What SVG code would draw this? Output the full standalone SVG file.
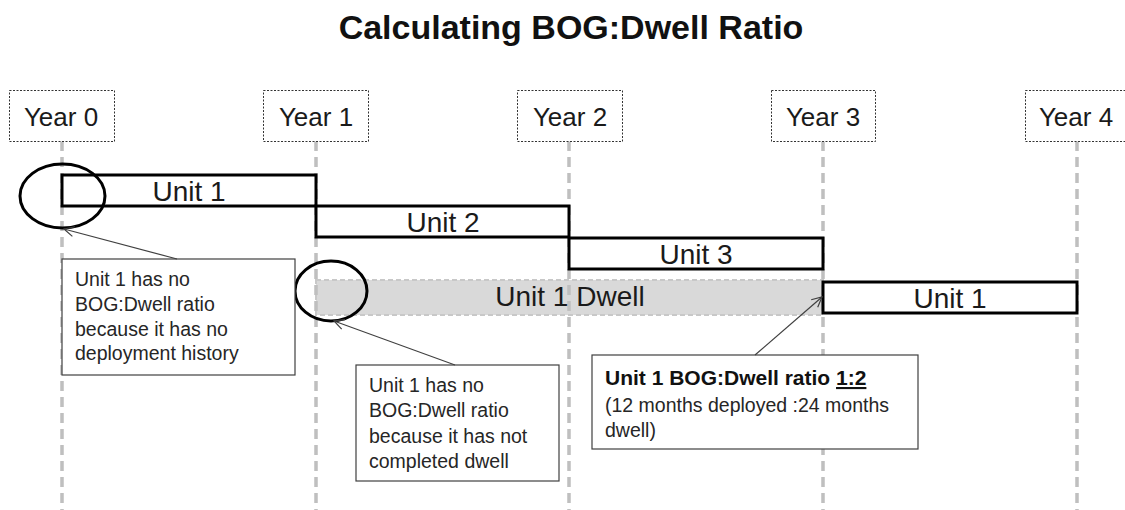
<svg xmlns="http://www.w3.org/2000/svg" width="1125" height="510" viewBox="0 0 1125 510">
  <style>
    .title { font-family: "Liberation Sans", Arial, sans-serif; font-weight: bold; font-size: 34px; fill: #111; }
    .year-box { fill: #fff; stroke: #333; stroke-width: 1; stroke-dasharray: 2 1.5; }
    .year-text { font-family: "Liberation Sans", Arial, sans-serif; font-size: 26px; fill: #1a1a1a; text-anchor: middle; }
    .vline { stroke: #bfbfbf; stroke-width: 3.5; stroke-dasharray: 10 6; fill: none; }
    .bar { fill: #fff; stroke: #000; stroke-width: 3; }
    .dwell { fill: #d9d9d9; stroke: #c8c8c8; stroke-width: 2; stroke-dasharray: 5 3; }
    .bar-text { font-family: "Liberation Sans", Arial, sans-serif; font-size: 28px; fill: #1a1a1a; text-anchor: middle; }
    .ring { fill: none; stroke: #000; stroke-width: 3; }
    .callout { fill: #fff; stroke: #404040; stroke-width: 1.2; }
    .callout-text { font-family: "Liberation Sans", Arial, sans-serif; font-size: 19.5px; fill: #262626; }
    .callout-bold { font-weight: bold; font-size: 21px; fill: #111; }
    .conn { stroke: #404040; stroke-width: 1.2; fill: none; marker-end: url(#open-arrow); }
  </style>
  <defs>
    <marker id="open-arrow" viewBox="0 0 12 12" refX="11" refY="6" markerWidth="12" markerHeight="12" markerUnits="userSpaceOnUse" orient="auto">
      <path d="M1,1 L11,6 L1,11" fill="none" stroke="#404040" stroke-width="1.2"/>
    </marker>
  </defs>

  <rect width="1125" height="510" fill="#fff"/>

  <g id="title">
    <text class="title" x="571" y="39" text-anchor="middle">Calculating BOG:Dwell Ratio</text>
  </g>

  <g id="dwell-bar">
    <rect class="dwell" x="316" y="280" width="507" height="35"/>
  </g>

  <g id="timeline-lines">
    <line class="vline" x1="62" y1="141" x2="62" y2="510"/>
    <line class="vline" x1="316" y1="141" x2="316" y2="510"/>
    <line class="vline" x1="569" y1="141" x2="569" y2="510"/>
    <line class="vline" x1="823" y1="141" x2="823" y2="510"/>
    <line class="vline" x1="1077" y1="141" x2="1077" y2="510"/>
  </g>

  <g id="year0"><rect class="year-box" x="9.5" y="90.5" width="105" height="51"/><text class="year-text" x="61" y="126">Year 0</text></g>
  <g id="year1"><rect class="year-box" x="263.5" y="90.5" width="105" height="51"/><text class="year-text" x="316" y="126">Year 1</text></g>
  <g id="year2"><rect class="year-box" x="517.5" y="90.5" width="105" height="51"/><text class="year-text" x="570" y="126">Year 2</text></g>
  <g id="year3"><rect class="year-box" x="771.5" y="90.5" width="104" height="51"/><text class="year-text" x="823" y="126">Year 3</text></g>
  <g id="year4"><rect class="year-box" x="1025.5" y="90.5" width="105" height="51"/><text class="year-text" x="1076" y="126">Year 4</text></g>

  <g id="dwell-label">
    <text class="bar-text" x="570" y="306">Unit 1 Dwell</text>
  </g>

  <g id="unit1-deploy1">
    <rect class="bar" x="62" y="175" width="254" height="31"/>
    <text class="bar-text" x="189" y="201">Unit 1</text>
  </g>
  <g id="unit2-deploy">
    <rect class="bar" x="316" y="206" width="253" height="31"/>
    <text class="bar-text" x="443" y="232">Unit 2</text>
  </g>
  <g id="unit3-deploy">
    <rect class="bar" x="569" y="238" width="254" height="31"/>
    <text class="bar-text" x="696" y="264">Unit 3</text>
  </g>
  <g id="unit1-deploy2">
    <rect class="bar" x="823" y="282" width="254" height="31"/>
    <text class="bar-text" x="950" y="308">Unit 1</text>
  </g>

  <g id="ring1"><ellipse class="ring" cx="62.5" cy="196" rx="42.5" ry="32"/></g>
  <g id="ring2"><ellipse class="ring" cx="331" cy="291" rx="36" ry="30"/></g>

  <g id="note1">
    <rect class="callout" x="62" y="259" width="233" height="116"/>
    <text class="callout-text">
      <tspan x="75" y="286">Unit 1 has no</tspan>
      <tspan x="75" y="311">BOG:Dwell ratio</tspan>
      <tspan x="75" y="336">because it has no</tspan>
      <tspan x="75" y="360">deployment history</tspan>
    </text>
  </g>

  <g id="note2">
    <rect class="callout" x="356" y="365" width="203" height="116"/>
    <text class="callout-text">
      <tspan x="369" y="392">Unit 1 has no</tspan>
      <tspan x="369" y="417">BOG:Dwell ratio</tspan>
      <tspan x="369" y="443">because it has not</tspan>
      <tspan x="369" y="468">completed dwell</tspan>
    </text>
  </g>

  <g id="note3">
    <rect class="callout" x="592" y="355" width="326" height="94"/>
    <text class="callout-text callout-bold" x="605" y="385">Unit 1 BOG:Dwell ratio <tspan text-decoration="underline">1:2</tspan></text>
    <text class="callout-text" font-size="20.5">
      <tspan x="605" y="412">(12 months deployed :24 months</tspan>
      <tspan x="605" y="437">dwell)</tspan>
    </text>
  </g>

  <g id="connectors">
    <line class="conn" x1="177" y1="259" x2="64" y2="229"/>
    <line class="conn" x1="455" y1="365" x2="334" y2="321"/>
    <line class="conn" x1="755" y1="355" x2="822" y2="297"/>
  </g>
</svg>
